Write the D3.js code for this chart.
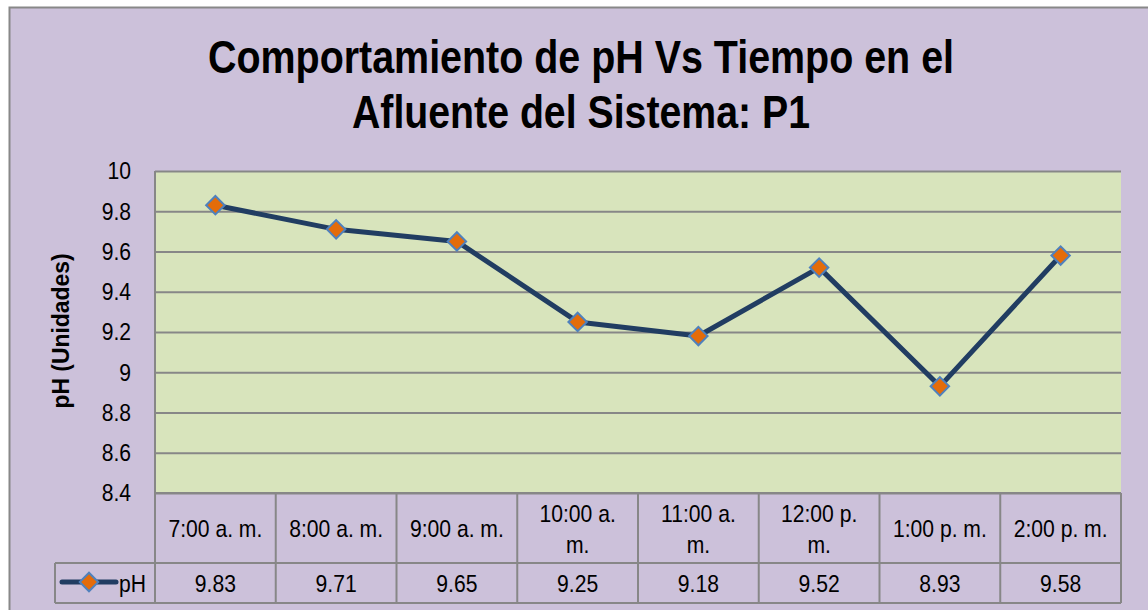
<!DOCTYPE html>
<html>
<head>
<meta charset="utf-8">
<script src="https://cdn.jsdelivr.net/npm/d3@7"></script>
<style>
  body { margin: 0; background: #fff; }
  svg text { font-family: "Liberation Sans", Arial, sans-serif; fill: #000; }
</style>
</head>
<body>
<div id="chart"></div>
<script>
const categories = [["7:00 a. m."], ["8:00 a. m."], ["9:00 a. m."], ["10:00 a.", "m."], ["11:00 a.", "m."], ["12:00 p.", "m."], ["1:00 p. m."], ["2:00 p. m."]];
const phValues = [9.83, 9.71, 9.65, 9.25, 9.18, 9.52, 8.93, 9.58];
const yTicks = [8.4, 8.6, 8.8, 9, 9.2, 9.4, 9.6, 9.8, 10];
const titleLines = ["Comportamiento de pH Vs Tiempo en el", "Afluente del Sistema: P1"];
const seriesName = "pH";
const yLabel = "pH  (Unidades)";

const W = 1148, H = 610;
const plot = { left: 155, right: 1121, top: 171, bottom: 493 };
const rowCat = 563, rowVal = 603, legendLeft = 55;
const gridColor = '#878787';
const fs = 24, narrow = 0.88;   // narrow-looking labels

let svg = d3.select('#chart').append('svg')
    .attr('width', W).attr('height', H);

function place(px, py) { return 'translate(' + px + ',' + py + ') scale(' + narrow + ',1)'; }

// chart background
svg.append('rect')
    .attr('x', 9.5).attr('y', 7.5).attr('width', W + 10).attr('height', H + 10)
    .attr('fill', '#CCC1DA').attr('stroke', '#888').attr('stroke-width', 2);

// title
svg.selectAll('text.title').data(titleLines).enter().append('text')
    .attr('class', 'title')
    .attr('x', 581)
    .attr('y', function (d, i) { return 73 + i * 55; })
    .attr('text-anchor', 'middle')
    .attr('font-size', 47).attr('font-weight', 'bold')
    .attr('textLength', function (d, i) { return i == 0 ? 746 : 458; })
    .attr('lengthAdjust', 'spacingAndGlyphs')
    .text(function (d) { return d; });

let x = d3.scaleBand().domain(d3.range(categories.length)).range([plot.left, plot.right]);
let y = d3.scaleLinear().domain([8.4, 10]).range([plot.bottom, plot.top]);

// plot area
svg.append('rect')
    .attr('x', plot.left).attr('y', plot.top)
    .attr('width', plot.right - plot.left).attr('height', plot.bottom - plot.top)
    .attr('fill', '#D8E4BC');

// gridlines
let yAxis = d3.axisLeft(y).tickValues(yTicks).tickSize(-(plot.right - plot.left)).tickFormat('');
let gy = svg.append('g').attr('transform', 'translate(' + plot.left + ',0)').call(yAxis);
gy.select('.domain').remove();
gy.selectAll('line').attr('stroke', gridColor).attr('stroke-width', 2);

// tick labels
svg.selectAll('text.ytick').data(yTicks).enter().append('text')
    .attr('class', 'ytick')
    .attr('transform', function (d) { return place(131, y(d)); })
    .attr('dy', '0.35em').attr('text-anchor', 'end')
    .attr('font-size', fs)
    .text(function (d) { return d3.format('~g')(d); });

// y axis title
svg.append('text')
    .attr('transform', 'translate(69,331) rotate(-90)')
    .attr('text-anchor', 'middle')
    .attr('font-size', 24).attr('font-weight', 'bold')
    .attr('textLength', 155).attr('lengthAdjust', 'spacingAndGlyphs')
    .text(yLabel);

// data table
let tbl = svg.append('g').attr('fill', 'none').attr('stroke', gridColor).attr('stroke-width', 2);
tbl.append('line').attr('x1', plot.left).attr('x2', plot.right).attr('y1', plot.bottom).attr('y2', plot.bottom);
tbl.append('line').attr('x1', legendLeft).attr('x2', plot.right).attr('y1', rowCat).attr('y2', rowCat);
tbl.append('line').attr('x1', legendLeft).attr('x2', plot.right).attr('y1', rowVal).attr('y2', rowVal);
tbl.append('line').attr('x1', legendLeft).attr('x2', legendLeft).attr('y1', rowCat).attr('y2', rowVal);
tbl.append('line').attr('x1', plot.left).attr('x2', plot.left).attr('y1', plot.top).attr('y2', rowVal);
tbl.selectAll('line.col').data(d3.range(categories.length)).enter().append('line')
    .attr('class', 'col')
    .attr('x1', function (d) { return x(d) + x.bandwidth(); })
    .attr('x2', function (d) { return x(d) + x.bandwidth(); })
    .attr('y1', plot.bottom).attr('y2', rowVal);

// category labels
let cat = svg.selectAll('text.cat').data(categories).enter().append('text')
    .attr('class', 'cat')
    .attr('text-anchor', 'middle').attr('font-size', fs)
    .attr('transform', function (d, i) { return place(x(i) + x.bandwidth() / 2, d.length == 1 ? 537 : 522); });
cat.selectAll('tspan').data(function (d) { return d; }).enter().append('tspan')
    .attr('x', 0)
    .attr('dy', function (d, i) { return i == 0 ? 0 : 31; })
    .text(function (d) { return d; });

// values row
svg.selectAll('text.val').data(phValues).enter().append('text')
    .attr('class', 'val')
    .attr('text-anchor', 'middle').attr('font-size', fs)
    .attr('transform', function (d, i) { return place(x(i) + x.bandwidth() / 2, 592); })
    .text(function (d) { return d3.format('.2f')(d); });

// line
let line = d3.line()
    .x(function (d, i) { return x(i) + x.bandwidth() / 2; })
    .y(function (d) { return y(d); });

svg.append('path').datum(phValues)
    .attr('d', line)
    .attr('fill', 'none').attr('stroke', '#213D62').attr('stroke-width', 5)
    .attr('stroke-linejoin', 'round');

let diamond = d3.symbol().type(d3.symbolSquare).size(170);
svg.selectAll('path.mk').data(phValues).enter().append('path')
    .attr('class', 'mk')
    .attr('d', diamond)
    .attr('transform', function (d, i) { return 'translate(' + (x(i) + x.bandwidth() / 2) + ',' + y(d) + ') rotate(45)'; })
    .attr('fill', '#E46C0A').attr('stroke', '#4F81BD').attr('stroke-width', 2);

// legend key
svg.append('line').attr('x1', 62).attr('x2', 116).attr('y1', 582).attr('y2', 582)
    .attr('stroke', '#213D62').attr('stroke-width', 5).attr('stroke-linecap', 'round');
svg.append('path').attr('d', diamond)
    .attr('transform', 'translate(89,582) rotate(45)')
    .attr('fill', '#E46C0A').attr('stroke', '#4F81BD').attr('stroke-width', 2);
svg.append('text').attr('transform', place(119, 592)).attr('font-size', fs).text(seriesName);
</script>
</body>
</html>
